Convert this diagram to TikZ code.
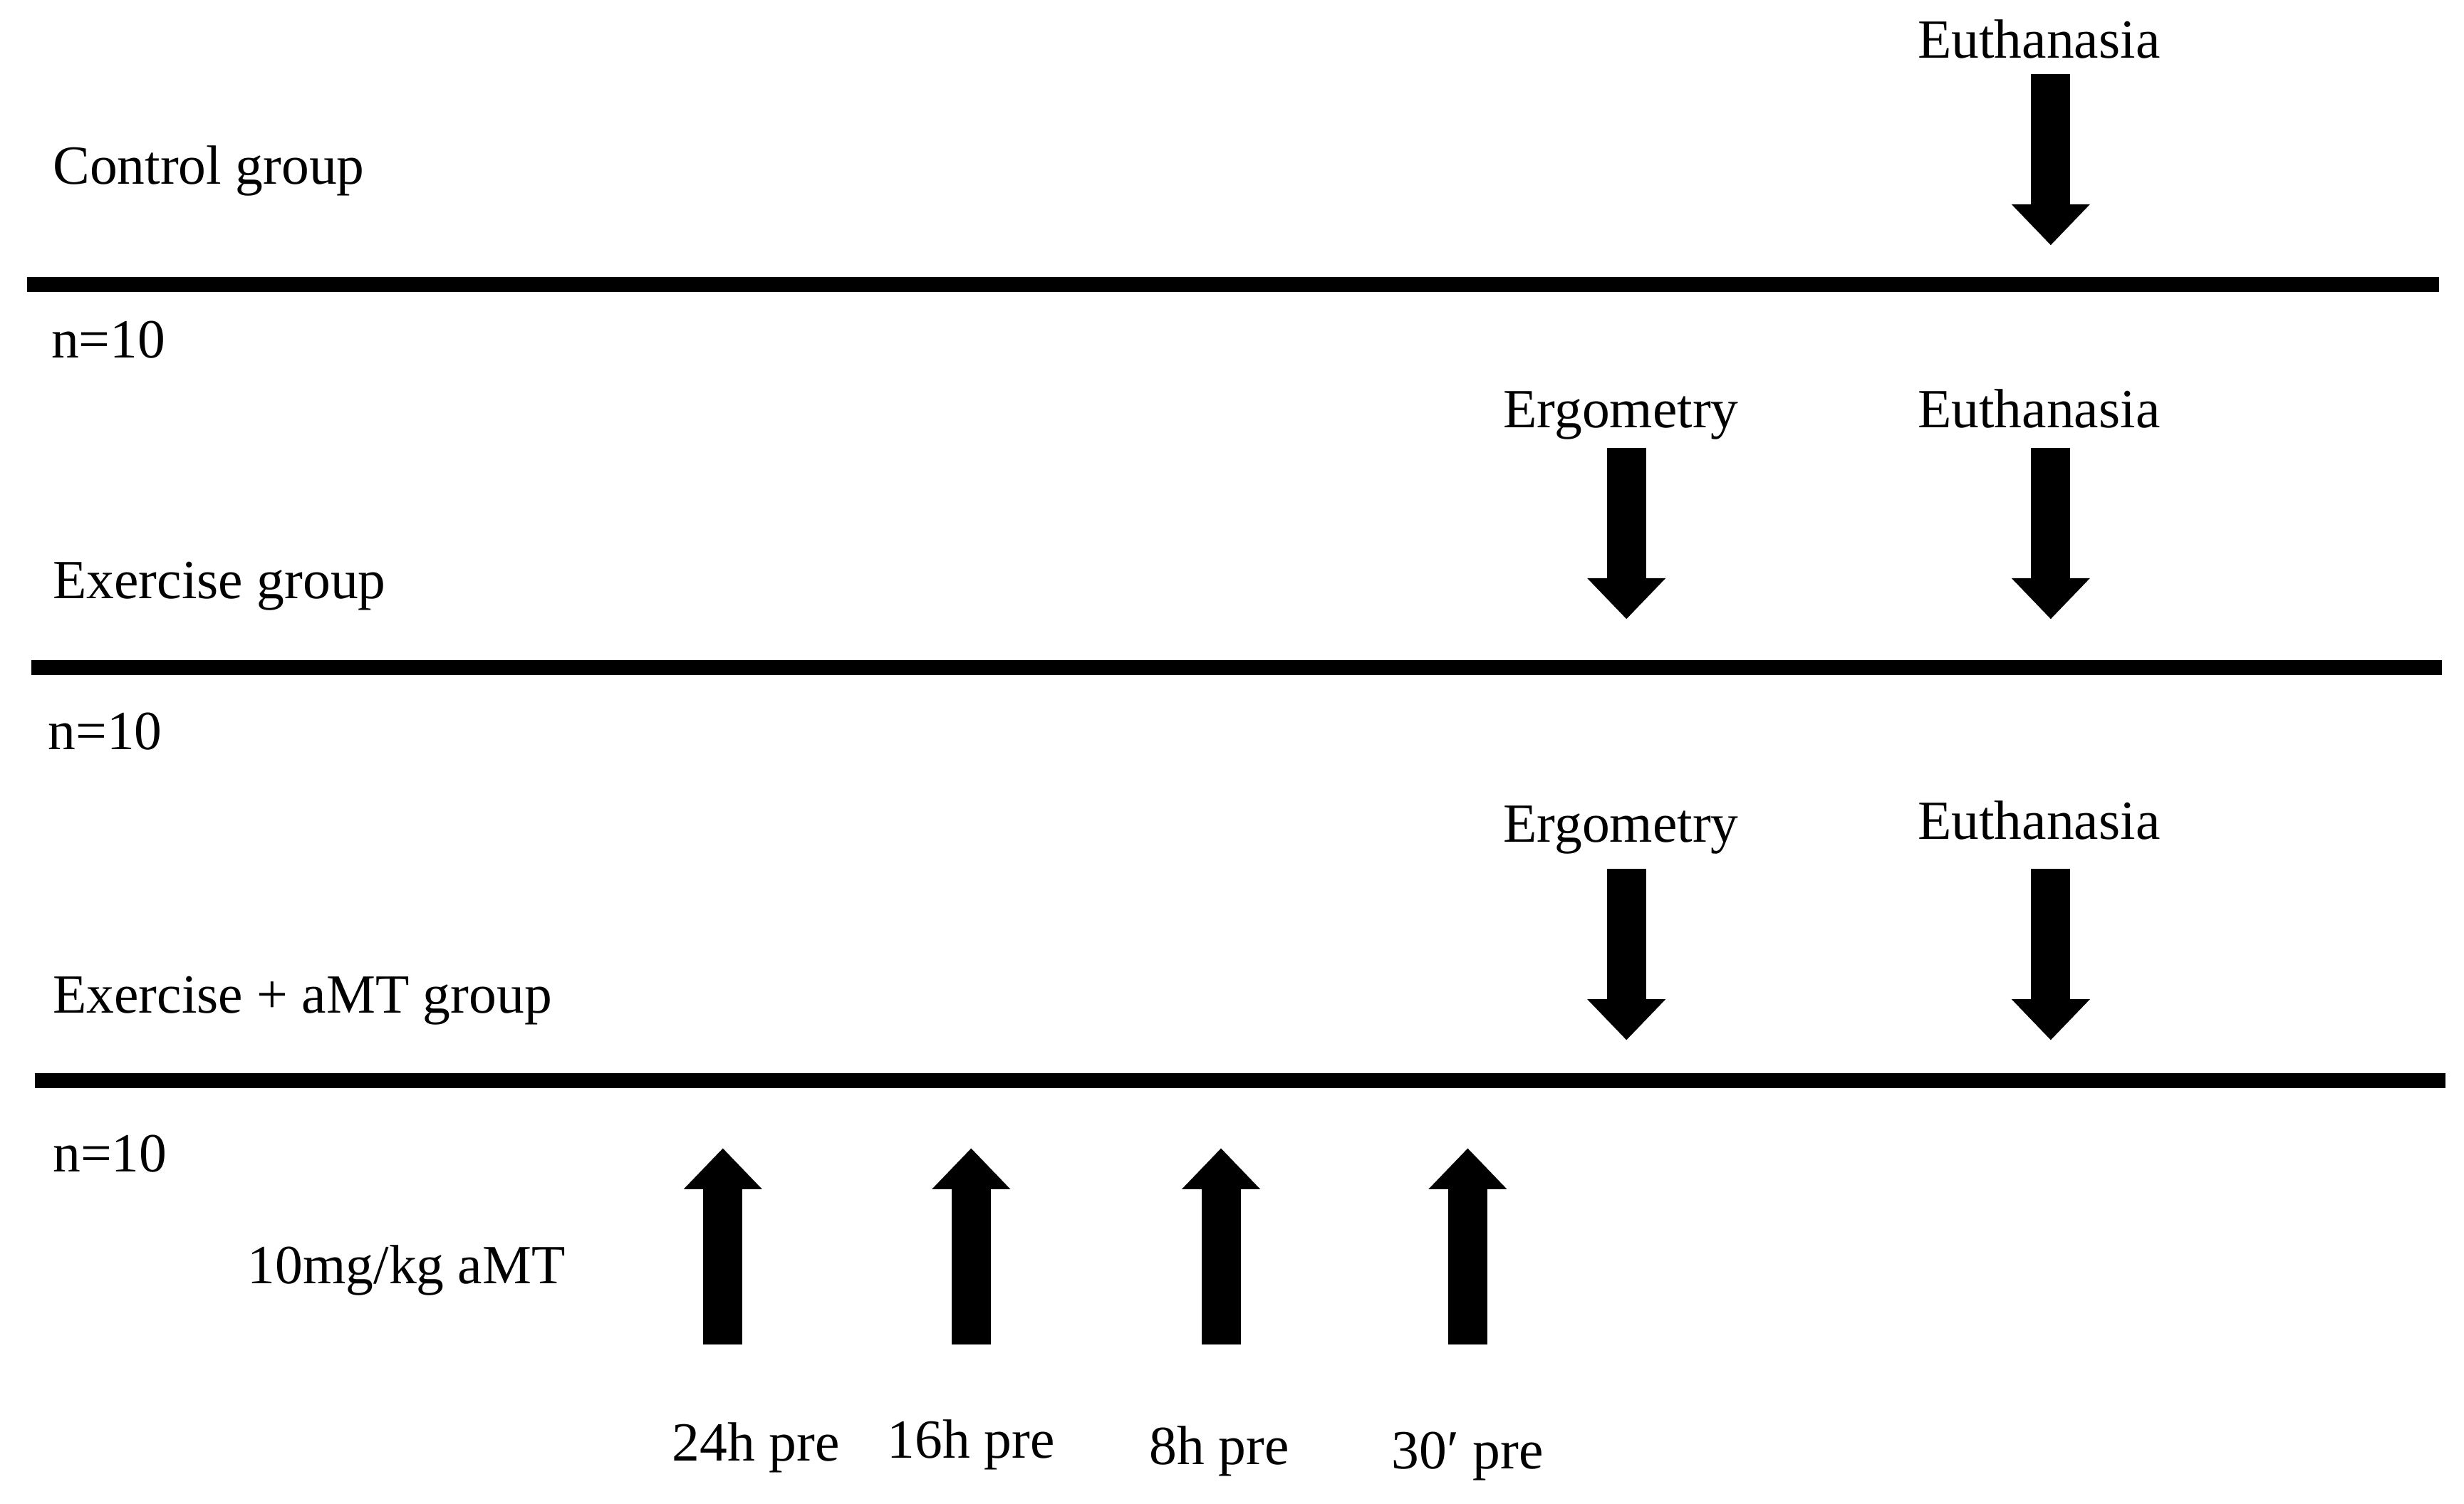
\documentclass[tikz,border=0pt]{standalone}
\usepackage{fontspec}
\setmainfont{Liberation Serif}
\usetikzlibrary{arrows.meta}

\begin{document}
\begin{tikzpicture}[x=1cm,y=1cm,
  lbl/.style={font=\fontsize{10}{12}\selectfont, inner sep=0pt},
  grpline/.style={line width=2.7pt},
  blockarrow/.style={line width=0.25cm, -{Triangle[width=0.5cm,length=0.26cm,line width=0pt]}}]
  \useasboundingbox (0,0) rectangle (15.68,9.57);

  % Control group
  \node[lbl, anchor=base west] (ctrl) at (0.33,8.40) {Control group};
  \node[lbl, anchor=base] (eu1) at (12.975,9.20) {Euthanasia};
  \coordinate (eu1 top) at (13.05,9.10);
  \coordinate (eu1 tip) at (13.05,8.01);
  \draw[blockarrow] (eu1 top) -- (eu1 tip);
  \draw[grpline] (0.17,7.76) -- (15.52,7.76);
  \node[lbl, anchor=base west] (n1) at (0.32,7.29) {n=10};

  % Exercise group
  \node[lbl, anchor=base] (erg2) at (10.315,6.85) {Ergometry};
  \node[lbl, anchor=base] (eu2) at (12.975,6.85) {Euthanasia};
  \coordinate (erg2 top) at (10.35,6.72);
  \coordinate (erg2 tip) at (10.35,5.63);
  \coordinate (eu2 top) at (13.05,6.72);
  \coordinate (eu2 tip) at (13.05,5.63);
  \draw[blockarrow] (erg2 top) -- (erg2 tip);
  \draw[blockarrow] (eu2 top) -- (eu2 tip);
  \node[lbl, anchor=base west] (exer) at (0.33,5.76) {Exercise group};
  \draw[grpline] (0.20,5.32) -- (15.54,5.32);
  \node[lbl, anchor=base west] (n2) at (0.30,4.80) {n=10};

  % Exercise + aMT group
  \node[lbl, anchor=base] (erg3) at (10.315,4.21) {Ergometry};
  \node[lbl, anchor=base] (eu3) at (12.975,4.23) {Euthanasia};
  \coordinate (erg3 top) at (10.35,4.04);
  \coordinate (erg3 tip) at (10.35,2.95);
  \coordinate (eu3 top) at (13.05,4.04);
  \coordinate (eu3 tip) at (13.05,2.95);
  \draw[blockarrow] (erg3 top) -- (erg3 tip);
  \draw[blockarrow] (eu3 top) -- (eu3 tip);
  \node[lbl, anchor=base west] (amt) at (0.33,3.12) {Exercise + aMT group};
  \draw[grpline] (0.22,2.69) -- (15.56,2.69);
  \node[lbl, anchor=base west] (n3) at (0.33,2.11) {n=10};

  % aMT doses
  \node[lbl, anchor=base west] (dose) at (1.57,1.40) {10mg/kg aMT};
  \foreach \x/\lx/\t/\y/\nm in {4.60/4.81/24h pre/0.27/d1, 6.18/6.18/16h pre/0.29/d2,
                                7.77/7.76/8h pre/0.25/d3, 9.34/9.34/30′ pre/0.22/d4} {
    \coordinate (\nm bot) at (\x,1.01);
    \coordinate (\nm tip) at (\x,2.26);
    \draw[blockarrow] (\nm bot) -- (\nm tip);
    \node[lbl, anchor=base] (\nm) at (\lx,\y) {\t};
  }
\end{tikzpicture}
\end{document}
